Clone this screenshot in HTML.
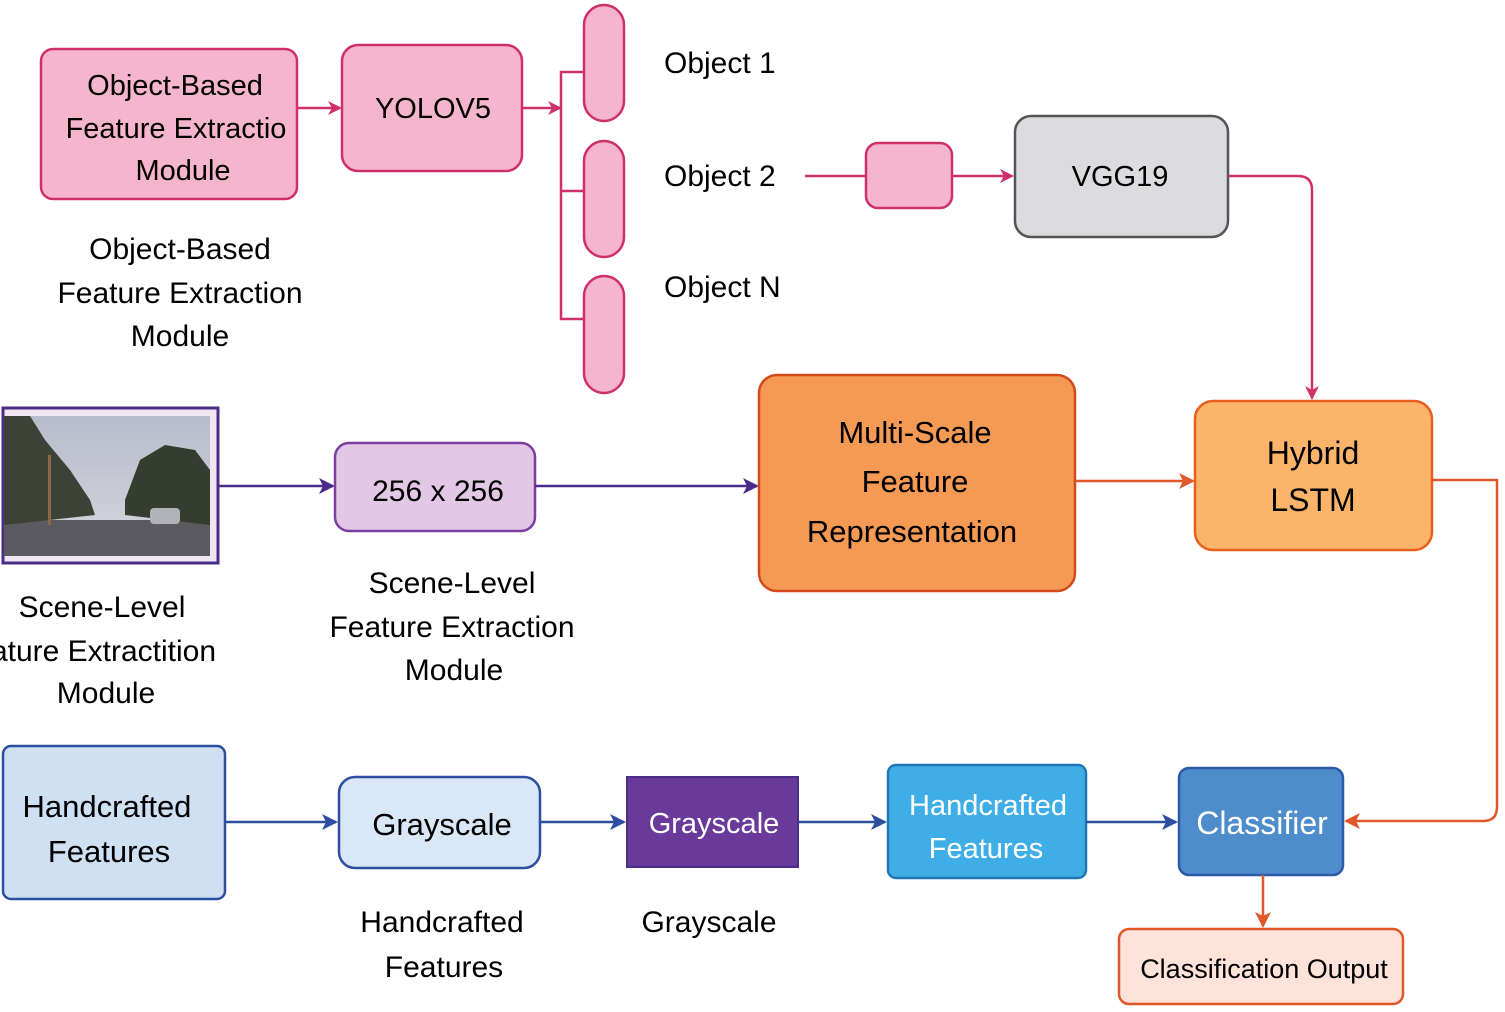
<!DOCTYPE html>
<html><head><meta charset="utf-8"><style>
html,body{margin:0;padding:0;background:#fff;}
svg{display:block;}
text{font-family:"Liberation Sans",sans-serif;}
</style></head><body>
<svg width="1505" height="1012" viewBox="0 0 1505 1012" xmlns="http://www.w3.org/2000/svg">
<defs>
<marker id="mp" markerWidth="14" markerHeight="14" refX="12" refY="7" orient="auto" markerUnits="userSpaceOnUse"><path d="M0,0 L14,7 L0,14 L4,7 Z" fill="#d0306a"/></marker>
<marker id="mo" markerWidth="16" markerHeight="16" refX="14" refY="8" orient="auto" markerUnits="userSpaceOnUse"><path d="M0,0 L16,8 L0,16 L4,8 Z" fill="#e0582a"/></marker>
<marker id="mu" markerWidth="16" markerHeight="16" refX="14" refY="8" orient="auto" markerUnits="userSpaceOnUse"><path d="M0,0 L16,8 L0,16 L4,8 Z" fill="#4b2c8a"/></marker>
<marker id="mb" markerWidth="16" markerHeight="16" refX="14" refY="8" orient="auto" markerUnits="userSpaceOnUse"><path d="M0,0 L16,8 L0,16 L4,8 Z" fill="#2c4fa0"/></marker>
<linearGradient id="sky" x1="0" y1="0" x2="0" y2="1"><stop offset="0" stop-color="#b8bccb"/><stop offset="1" stop-color="#d6d6dc"/></linearGradient>
</defs>

<rect x="41" y="49" width="256" height="150" rx="12" fill="#f5b5cc" stroke="#d0306a" stroke-width="2.5"/>
<text x="175" y="95" font-size="29" text-anchor="middle">Object-Based</text>
<text x="176" y="138" font-size="29" text-anchor="middle">Feature Extractio</text>
<text x="183" y="180" font-size="29" text-anchor="middle">Module</text>
<line x1="297" y1="108" x2="340" y2="108" stroke="#d0306a" stroke-width="2.5" marker-end="url(#mp)"/>
<rect x="342" y="45" width="180" height="126" rx="16" fill="#f5b5cc" stroke="#d0306a" stroke-width="2.5"/>
<text x="433" y="118" font-size="29" text-anchor="middle">YOLOV5</text>
<line x1="522" y1="108" x2="560" y2="108" stroke="#d0306a" stroke-width="2.5" marker-end="url(#mp)"/>
<path d="M584,72 H561 V319 H584 M561,191 H584" fill="none" stroke="#d0306a" stroke-width="2.5"/>
<rect x="584" y="5" width="40" height="116" rx="20" fill="#f5b5cc" stroke="#d0306a" stroke-width="2.5"/>
<rect x="584" y="141" width="40" height="116" rx="20" fill="#f5b5cc" stroke="#d0306a" stroke-width="2.5"/>
<rect x="584" y="276" width="40" height="117" rx="20" fill="#f5b5cc" stroke="#d0306a" stroke-width="2.5"/>
<text x="664" y="73" font-size="30">Object 1</text>
<text x="664" y="186" font-size="30">Object 2</text>
<text x="664" y="297" font-size="30">Object N</text>
<text x="180" y="259" font-size="30" text-anchor="middle">Object-Based</text>
<text x="180" y="303" font-size="30" text-anchor="middle">Feature Extraction</text>
<text x="180" y="346" font-size="30" text-anchor="middle">Module</text>

<line x1="805" y1="176" x2="865" y2="176" stroke="#d0306a" stroke-width="2.5"/>
<rect x="866" y="143" width="86" height="65" rx="12" fill="#f5b5cc" stroke="#d0306a" stroke-width="2.5"/>
<line x1="952" y1="176" x2="1012" y2="176" stroke="#d0306a" stroke-width="2.5" marker-end="url(#mp)"/>
<rect x="1015" y="116" width="213" height="121" rx="16" fill="#dcdcdf" stroke="#555" stroke-width="2.5"/>
<text x="1120" y="186" font-size="29" text-anchor="middle">VGG19</text>
<path d="M1228,176 H1298 Q1312,176 1312,190 V398" fill="none" stroke="#d0306a" stroke-width="2.5" marker-end="url(#mp)"/>

<rect x="3" y="408" width="215" height="155" fill="#efe6f2" stroke="#4b2c8a" stroke-width="3"/>
<rect x="4" y="416" width="206" height="140" fill="url(#sky)"/>
<path d="M4,520 L210,520 L210,556 L4,556 Z" fill="#5a5a60"/>
<path d="M4,416 L30,416 L45,440 L70,470 L90,500 L95,515 L4,525 Z" fill="#3c4236"/>
<path d="M125,500 L140,460 L165,445 L195,450 L210,470 L210,525 L125,515 Z" fill="#353d30"/>
<rect x="48" y="455" width="3" height="70" fill="#8a6a4a"/>
<rect x="150" y="508" width="30" height="16" rx="4" fill="#b0b2b8"/>
<line x1="218" y1="486" x2="333" y2="486" stroke="#4b2c8a" stroke-width="2.5" marker-end="url(#mu)"/>
<rect x="335" y="443" width="200" height="88" rx="14" fill="#e3c8e6" stroke="#7b3fa0" stroke-width="2.5"/>
<text x="438" y="501" font-size="30" text-anchor="middle">256 x 256</text>
<line x1="535" y1="486" x2="757" y2="486" stroke="#4b2c8a" stroke-width="2.5" marker-end="url(#mu)"/>
<text x="102" y="617" font-size="30" text-anchor="middle">Scene-Level</text>
<text x="86" y="661" font-size="30" text-anchor="middle">Feature Extractition</text>
<text x="106" y="703" font-size="30" text-anchor="middle">Module</text>
<text x="452" y="593" font-size="30" text-anchor="middle">Scene-Level</text>
<text x="452" y="637" font-size="30" text-anchor="middle">Feature Extraction</text>
<text x="454" y="680" font-size="30" text-anchor="middle">Module</text>

<rect x="759" y="375" width="316" height="216" rx="18" fill="#f59a55" stroke="#d24a1a" stroke-width="2.5"/>
<text x="915" y="443" font-size="31" text-anchor="middle">Multi-Scale</text>
<text x="915" y="492" font-size="31" text-anchor="middle">Feature</text>
<text x="912" y="542" font-size="31" text-anchor="middle">Representation</text>
<line x1="1075" y1="481" x2="1193" y2="481" stroke="#e0582a" stroke-width="2.5" marker-end="url(#mo)"/>
<rect x="1195" y="401" width="237" height="149" rx="18" fill="#fbb46a" stroke="#e8601c" stroke-width="2.5"/>
<text x="1313" y="464" font-size="32" text-anchor="middle">Hybrid</text>
<text x="1313" y="511" font-size="32" text-anchor="middle">LSTM</text>
<path d="M1432,480 H1497 V807 Q1497,821 1483,821 H1346" fill="none" stroke="#e0582a" stroke-width="2.5" marker-end="url(#mo)"/>

<rect x="3" y="746" width="222" height="153" rx="8" fill="#cfe0f3" stroke="#2c4fa0" stroke-width="2.5"/>
<text x="107" y="817" font-size="31" text-anchor="middle">Handcrafted</text>
<text x="109" y="862" font-size="31" text-anchor="middle">Features</text>
<line x1="225" y1="822" x2="336" y2="822" stroke="#2c4fa0" stroke-width="2.5" marker-end="url(#mb)"/>
<rect x="339" y="777" width="201" height="91" rx="16" fill="#dae7f6" stroke="#2c4fa0" stroke-width="2.5"/>
<text x="442" y="835" font-size="31" text-anchor="middle">Grayscale</text>
<line x1="540" y1="822" x2="624" y2="822" stroke="#2c4fa0" stroke-width="2.5" marker-end="url(#mb)"/>
<rect x="627" y="777" width="171" height="90" fill="#6a3a9a" stroke="#4b2c8a" stroke-width="2"/>
<text x="714" y="833" font-size="29" text-anchor="middle" fill="#fff">Grayscale</text>
<line x1="798" y1="822" x2="885" y2="822" stroke="#2c4fa0" stroke-width="2.5" marker-end="url(#mb)"/>
<rect x="888" y="765" width="198" height="113" rx="8" fill="#40aee6" stroke="#2077b8" stroke-width="2.5"/>
<text x="988" y="815" font-size="29" text-anchor="middle" fill="#fff">Handcrafted</text>
<text x="986" y="858" font-size="29" text-anchor="middle" fill="#fff">Features</text>
<line x1="1086" y1="822" x2="1176" y2="822" stroke="#2c4fa0" stroke-width="2.5" marker-end="url(#mb)"/>
<rect x="1179" y="768" width="164" height="107" rx="10" fill="#4f8ccc" stroke="#2c5aa8" stroke-width="2.5"/>
<text x="1262" y="834" font-size="32" text-anchor="middle" fill="#fff">Classifier</text>
<line x1="1263" y1="875" x2="1263" y2="926" stroke="#e0582a" stroke-width="2.5" marker-end="url(#mo)"/>
<rect x="1119" y="929" width="284" height="75" rx="10" fill="#fde3da" stroke="#e0582a" stroke-width="2.5"/>
<text x="1264" y="978" font-size="27" text-anchor="middle">Classification Output</text>
<text x="442" y="932" font-size="30" text-anchor="middle">Handcrafted</text>
<text x="444" y="977" font-size="30" text-anchor="middle">Features</text>
<text x="709" y="932" font-size="30" text-anchor="middle">Grayscale</text>
</svg>
</body></html>
